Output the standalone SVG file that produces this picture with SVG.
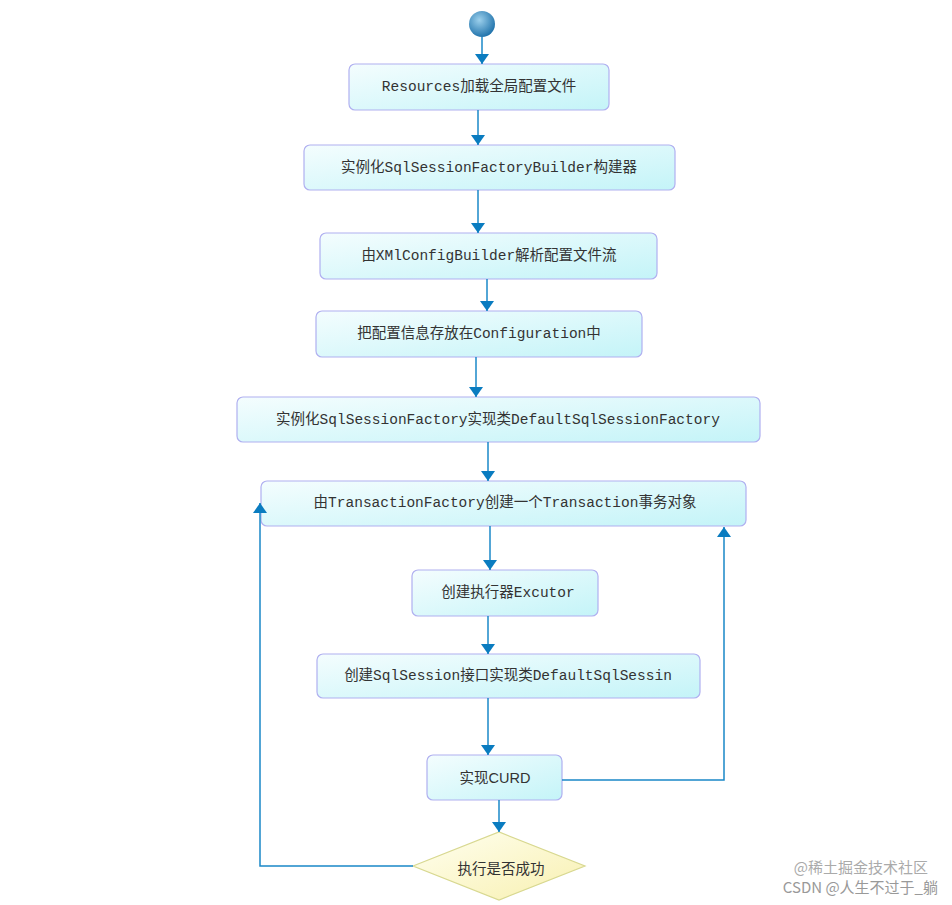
<svg xmlns="http://www.w3.org/2000/svg" width="952" height="905" viewBox="0 0 952 905">
<defs>
<linearGradient id="bg" x1="0" y1="0" x2="1" y2="1"><stop offset="0" stop-color="#f4fdfe"/><stop offset="1" stop-color="#c4f4f8"/></linearGradient>
<linearGradient id="dg" x1="0" y1="0" x2="1" y2="1"><stop offset="0" stop-color="#fffff0"/><stop offset="1" stop-color="#f8f0b0"/></linearGradient>
<radialGradient id="cg" cx="0.4" cy="0.35" r="0.7"><stop offset="0" stop-color="#9cd0ec"/><stop offset="1" stop-color="#1a6ea8"/></radialGradient>
<marker id="ah" viewBox="0 0 10 20" refX="10" refY="10" markerWidth="10" markerHeight="20" markerUnits="userSpaceOnUse" orient="auto"><path d="M0,3 L10,10 L0,17 Z" fill="#0a7cc0"/></marker>
<style>
.b{fill:url(#bg);stroke:#b0b0f0;stroke-width:1.2}
.t{font-family:"Liberation Mono","Noto Sans CJK SC",monospace;font-size:14.5px;fill:#333;text-anchor:middle;dominant-baseline:central}
.c{fill:none;stroke:#1a88c8;stroke-width:1.5;marker-end:url(#ah)}
.w{font-family:"Noto Sans CJK SC",sans-serif;font-size:15px;text-anchor:end}
</style>
</defs>
<rect width="952" height="905" fill="#fff"/>
<g id="start"><circle cx="482" cy="24" r="13" fill="url(#cg)"/></g>
<g id="n1"><rect class="b" x="349" y="64" width="260" height="46" rx="6"/><text class="t" x="479" y="87">Resources加载全局配置文件</text></g>
<g id="n2"><rect class="b" x="304" y="145" width="371" height="45" rx="6"/><text class="t" x="489" y="168">实例化SqlSessionFactoryBuilder构建器</text></g>
<g id="n3"><rect class="b" x="320" y="233" width="337" height="46" rx="6"/><text class="t" x="489" y="256">由XMlConfigBuilder解析配置文件流</text></g>
<g id="n4"><rect class="b" x="316" y="311" width="326" height="46" rx="6"/><text class="t" x="479" y="334">把配置信息存放在Configuration中</text></g>
<g id="n5"><rect class="b" x="237" y="397" width="523" height="45" rx="6"/><text class="t" x="498" y="420">实例化SqlSessionFactory实现类DefaultSqlSessionFactory</text></g>
<g id="n6"><rect class="b" x="261" y="481" width="485" height="45" rx="6"/><text class="t" x="505" y="503">由TransactionFactory创建一个Transaction事务对象</text></g>
<g id="n7"><rect class="b" x="412" y="570" width="186" height="46" rx="6"/><text class="t" x="508" y="593">创建执行器Excutor</text></g>
<g id="n8"><rect class="b" x="317" y="654" width="383" height="44" rx="6"/><text class="t" x="508" y="676">创建SqlSession接口实现类DefaultSqlSessin</text></g>
<g id="n9"><rect class="b" x="427" y="755" width="135" height="45" rx="6"/><text class="t" x="495" y="778" style="font-family:'Liberation Sans Narrow','Liberation Sans','Noto Sans CJK SC',sans-serif">实现CURD</text></g>
<g id="d1"><path d="M413,866 L499,832 L585,866 L499,900 Z" fill="url(#dg)" stroke="#d8d890" stroke-width="1.2"/><text class="t" x="501" y="867" style="font-family:'Noto Sans CJK SC',sans-serif">执行是否成功</text></g>
<g id="connectors">
<path class="c" d="M482,37 V64"/>
<path class="c" d="M478,110 V145"/>
<path class="c" d="M478,190 V233"/>
<path class="c" d="M487,279 V311"/>
<path class="c" d="M476,357 V397"/>
<path class="c" d="M488,442 V481"/>
<path class="c" d="M490,526 V570"/>
<path class="c" d="M488,616 V654"/>
<path class="c" d="M488,698 V755"/>
<path class="c" d="M499,800 V832"/>
<path class="c" d="M413,866 H260 V503"/>
<path class="c" d="M562,780 H724 V527"/>
</g>
<text class="w" x="928" y="873" fill="#aaa">@稀土掘金技术社区</text>
<text class="w" x="938" y="893" fill="#999">CSDN @人生不过于_躺</text>
</svg>
